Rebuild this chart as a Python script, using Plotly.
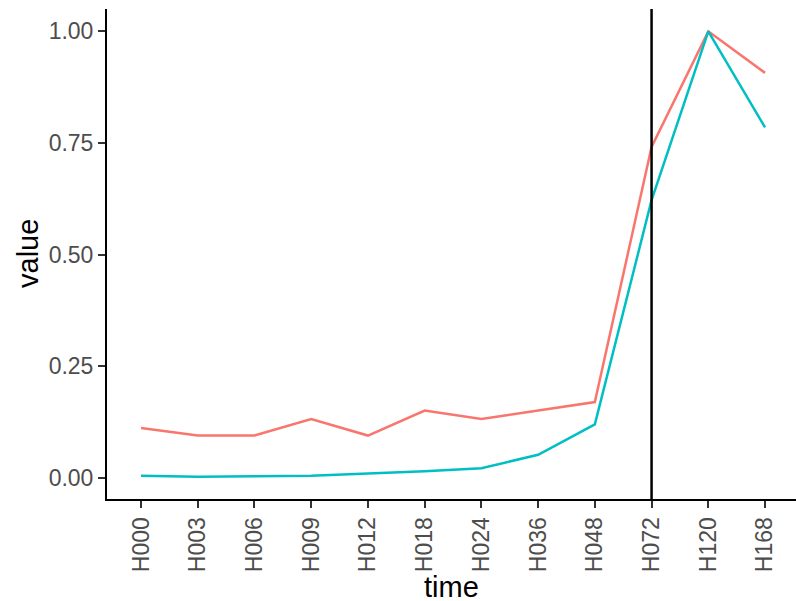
import plotly.graph_objects as go

times = ["H000", "H003", "H006", "H009", "H012", "H018", "H024", "H036", "H048", "H072", "H120", "H168"]
series_red = [0.112, 0.095, 0.095, 0.132, 0.095, 0.151, 0.132, 0.151, 0.170, 0.741, 1.000, 0.907]
series_teal = [0.005, 0.003, 0.004, 0.005, 0.010, 0.015, 0.022, 0.052, 0.120, 0.622, 1.000, 0.785]
y_ticks = [0.0, 0.25, 0.5, 0.75, 1.0]
vline_at = "H072"

W, H = 796, 601
ML, MR, MT, MB = 107, 0, 9, 102
pw, ph = W - ML - MR, H - MT - MB

fig = go.Figure()
fig.add_trace(go.Scatter(x=times, y=series_red, mode="lines",
                         line=dict(color="#F8766D", width=2.5), showlegend=False))
fig.add_trace(go.Scatter(x=times, y=series_teal, mode="lines",
                         line=dict(color="#00BFC4", width=2.5), showlegend=False))
fig.add_shape(type="line", xref="x", yref="paper", x0=vline_at, x1=vline_at, y0=0, y1=1,
              line=dict(color="black", width=2.5))

fig.add_annotation(text="time", xref="paper", yref="paper",
                   x=(451.5 - ML) / pw, y=-(587 - (MT + ph)) / ph,
                   xanchor="center", yanchor="middle", showarrow=False,
                   font=dict(size=29, color="black"))
fig.add_annotation(text="value", xref="paper", yref="paper",
                   x=(28 - ML) / pw, y=0.5, textangle=-90,
                   xanchor="center", yanchor="middle", showarrow=False,
                   font=dict(size=29, color="black"))

fig.update_layout(
    width=W, height=H,
    margin=dict(l=ML, r=MR, t=MT, b=MB),
    paper_bgcolor="white", plot_bgcolor="white",
    font=dict(family="Liberation Sans, Arial, sans-serif"),
    xaxis=dict(
        type="category", categoryorder="array", categoryarray=times,
        range=[-0.6, 11.546], showgrid=False, zeroline=False, automargin=False,
        showline=True, linecolor="black", linewidth=2,
        ticks="outside", ticklen=7, tickwidth=2, tickcolor="#333333",
        tickangle=-90, tickfont=dict(size=23, color="#4D4D4D"),
    ),
    yaxis=dict(
        range=[-0.047, 1.05], showgrid=False, zeroline=False, automargin=False,
        showline=True, linecolor="black", linewidth=2,
        tickvals=y_ticks, tickformat=".2f",
        ticks="outside", ticklen=7, tickwidth=2, tickcolor="#333333",
        tickfont=dict(size=23, color="#4D4D4D"),
    ),
)

fig.write_html("out.html", config={"displayModeBar": False},
               post_script="document.body.style.margin='0';document.body.style.overflow='hidden';")
